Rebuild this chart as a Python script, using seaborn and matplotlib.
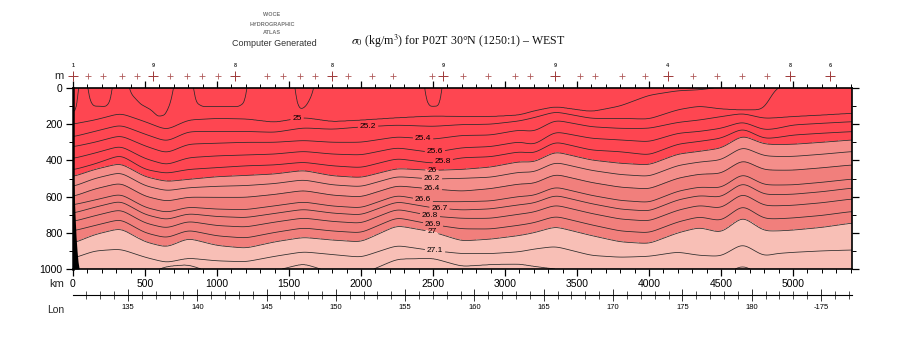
import numpy as np
import matplotlib
matplotlib.use("Agg")
import matplotlib.pyplot as plt
import pandas as pd
import seaborn as sns

# ---------------- data ----------------
dist_km = [0, 150, 330, 500, 650, 800, 1000, 1200, 1400, 1600, 1800, 2000, 2250, 2500,
           2700, 2900, 3100, 3200, 3350, 3600, 3800, 4000, 4200, 4350, 4500, 4650,
           4800, 4880, 5000, 5200, 5410]

# depth (m) of each isopycnal along the section (negative = outcropped above the surface)
d_25_0 = [200, 177, 140, 186, 232, 177, 168, 171, 190, 163, 186, 178, 165, 155, 158, 158,
          150, 127, 103, 131, 100, 40, 15, 10, -5, -30, -40, -50, -50, -50, -50]
d_25_2 = [270, 240, 204, 255, 296, 241, 240, 240, 245, 220, 228, 215, 205, 212, 202, 200,
          182, 164, 131, 168, 168, 172, 120, 100, 116, 122, 120, -5, -20, -20, -20]
d_25_4 = [325, 300, 262, 320, 360, 310, 305, 300, 300, 290, 300, 300, 270, 283, 262, 260,
          232, 241, 177, 214, 223, 223, 190, 177, 158, 140, 168, 165, 158, 150, 140]
d_25_6 = [390, 360, 320, 390, 425, 385, 375, 370, 365, 350, 365, 370, 330, 357, 330, 324,
          297, 315, 241, 278, 287, 297, 250, 240, 223, 186, 232, 225, 204, 195, 186]
d_25_8 = [453, 420, 370, 450, 472, 450, 440, 430, 425, 410, 430, 440, 390, 416, 385, 380,
          352, 361, 297, 343, 352, 370, 310, 295, 278, 223, 280, 275, 260, 250, 241]
d_26_0 = [490, 450, 416, 490, 517, 505, 490, 483, 475, 455, 485, 495, 445, 455, 450, 437,
          407, 410, 352, 398, 416, 425, 365, 350, 333, 262, 310, 312, 311, 300, 287]
d_26_2 = [545, 500, 466, 540, 568, 551, 543, 539, 528, 507, 535, 545, 489, 503, 499, 493,
          465, 465, 410, 455, 478, 488, 428, 409, 398, 325, 375, 378, 378, 366, 351]
d_26_4 = [600, 558, 524, 598, 626, 603, 604, 604, 588, 566, 592, 602, 540, 558, 570, 556,
          530, 528, 476, 522, 548, 558, 498, 476, 473, 397, 452, 454, 454, 441, 425]
d_26_6 = [646, 619, 585, 659, 688, 658, 669, 672, 651, 629, 652, 662, 593, 628, 628, 624,
          599, 594, 546, 593, 621, 632, 570, 547, 552, 473, 535, 536, 535, 521, 503]
d_26_7 = [692, 659, 624, 699, 728, 694, 710, 716, 693, 670, 691, 701, 628, 662, 674, 668,
          645, 636, 592, 639, 669, 680, 618, 594, 604, 522, 588, 589, 587, 573, 553]
d_26_8 = [738, 706, 671, 746, 775, 736, 760, 768, 741, 718, 737, 747, 669, 708, 720, 720,
          697, 686, 646, 693, 724, 735, 675, 648, 665, 581, 650, 651, 648, 634, 613]
d_26_9 = [790, 760, 725, 800, 829, 785, 817, 829, 798, 773, 790, 800, 716, 755, 778, 779,
          758, 745, 708, 756, 790, 800, 740, 711, 735, 648, 722, 723, 718, 704, 682]
d_27_0 = [858, 810, 775, 850, 880, 830, 870, 885, 850, 825, 840, 850, 760, 795, 845, 835,
          815, 800, 766, 815, 850, 860, 800, 770, 800, 711, 790, 790, 785, 770, 746]
d_27_1 = [941, 900, 890, 935, 965, 940, 955, 960, 930, 905, 920, 935, 870, 899, 915, 915,
          905, 890, 875, 925, 935, 930, 906, 925, 930, 860, 930, 915, 908, 900, 895]
d_27_2 = [1060, 1040, 1010, 1030, 985, 975, 1030, 1050, 1010, 970, 1020, 1030, 945, 940,
          985, 975, 972, 985, 1000, 1030, 1040, 1040, 1020, 1030, 1040, 978, 1040, 1040,
          1030, 1020, 1010]

# shallow 24.8 contour (surface pockets of lighter water)
surf_km = [0, 30, 45, 90, 110, 140, 230, 265, 285, 360, 400, 470, 540, 590, 640, 680, 720,
           820, 850, 900, 1150, 1195, 1225, 1530, 1550, 1580, 1620, 1660, 1700, 2430, 2450,
           2480, 2540, 2555, 2575, 5410]
d_24_8 = [130, 125, -100, -100, 60, 100, 103, 70, -100, -100, 30, 90, 120, 158, 150, 80,
          -100, -100, 80, 103, 103, 80, -100, -100, 80, 120, 100, 40, -100, -100, 70, 103,
          100, 70, -100, -100]

sigma_levels = [25.0, 25.2, 25.4, 25.6, 25.8, 26.0, 26.2, 26.4, 26.6, 26.7, 26.8, 26.9,
                27.0, 27.1, 27.2]

# bathymetry at the western end
bottom_km = [0, 7, 14, 21, 28, 35, 45]
bottom_m = [480, 560, 700, 820, 900, 960, 1010]

# stations (top row)
station_km = [0, 104, 208, 340, 444, 556, 674, 792, 896, 1007, 1125, 1347, 1458, 1576,
              1681, 1799, 1910, 2076, 2222, 2493, 2569, 2708, 2882, 3069, 3174, 3347, 3521,
              3625, 3813, 3972, 4132, 4306, 4472, 4646, 4819, 4979, 5257]
major_station_km = [0, 556, 1125, 1799, 2569, 3347, 4132, 4979, 5257]
major_station_lbl = ["1", "9", "8", "8", "9", "9", "4", "8", "6"]

km_ticks = [0, 500, 1000, 1500, 2000, 2500, 3000, 3500, 4000, 4500, 5000]
lon_ticks = [135, 140, 145, 150, 155, 160, 165, 170, 175, 180, 185]
lon_labels = ["135", "140", "145", "150", "155", "160", "165", "170", "175", "180", "-175"]
lon_range = [131.03, 187.24]

label_levels = [25.0, 25.2, 25.4, 25.6, 25.8, 26.0, 26.2, 26.4, 26.6, 26.7, 26.8, 26.9,
                27.0, 27.1]
label_km = [1556, 2049, 2431, 2514, 2569, 2493, 2493, 2493, 2430, 2545, 2479, 2500, 2493,
            2514]

# ---------------- style ----------------
sns.set_theme(style="white")
plt.rcParams["font.family"] = ["Liberation Sans", "DejaVu Sans"]
plt.rcParams["mathtext.fontset"] = "stix"

W, H = 900, 350
fig = plt.figure(figsize=(9, 3.5), dpi=100)
fig.patch.set_facecolor("white")


def fx(px):
    return px / W


def fy(py):
    return 1 - py / H


def smooth(v, sig):
    n = int(3 * sig)
    k = np.exp(-0.5 * (np.arange(-n, n + 1) / sig) ** 2)
    k /= k.sum()
    return np.convolve(np.pad(v, n, mode="edge"), k, mode="valid")


ax = fig.add_axes([fx(73), fy(269), (852 - 73) / W, (269 - 88) / H])

# ---------------- build density field from isopycnal depths ----------------
depth_rows = [d_25_0, d_25_2, d_25_4, d_25_6, d_25_8, d_26_0, d_26_2, d_26_4, d_26_6,
              d_26_7, d_26_8, d_26_9, d_27_0, d_27_1, d_27_2]
xs = np.linspace(0, dist_km[-1], 1200)
zs = np.linspace(0, 1000, 500)
levs = [24.4, 24.8] + sigma_levels + [27.6]
Dm = [np.full_like(xs, -400.0), smooth(np.interp(xs, surf_km, d_24_8), 2.5)]
Dm += [smooth(np.interp(xs, dist_km, r), 7) for r in depth_rows]
Dm += [np.full_like(xs, 2500.0)]
Dm = np.array(Dm)
S = np.empty((len(zs), len(xs)))
for j in range(len(xs)):
    col = np.maximum.accumulate(Dm[:, j] + np.arange(len(levs)) * 1e-3)
    S[:, j] = np.interp(zs, col, levs)

fill_levels = [20, 26.0, 26.4, 27.0, 30]
fill_colors = ["#FE4651", "#F48E8A", "#F17F7C", "#F8BFB6"]
ax.contourf(xs, zs, S, levels=fill_levels, colors=fill_colors)
other_levels = [lv for lv in [24.8] + sigma_levels if lv not in label_levels]
ax.contour(xs, zs, S, levels=other_levels, colors="#2a2a2a", linewidths=0.55)
cs = ax.contour(xs, zs, S, levels=label_levels, colors="#2a2a2a", linewidths=0.55)

# contour labels on the lines
pos = []
for lv, km in zip(label_levels, label_km):
    row = depth_rows[sigma_levels.index(lv)]
    pos.append((km, float(np.interp(km, dist_km, row))))
txts = ax.clabel(cs, manual=pos, inline=True, inline_spacing=2,
                 fontsize=6, fmt=lambda v: f"{v:g}", colors="black")
for t in txts:
    t.set_rotation(0)

# bathymetry
ax.fill_between(bottom_km, bottom_m, 1000, color="black", zorder=4, lw=0)

# station markers (top row)
df_st = pd.DataFrame({"km": station_km, "y": 1.066})
df_maj = pd.DataFrame({"km": major_station_km, "y": 1.066})
trans = ax.get_xaxis_transform()
sns.scatterplot(data=df_st, x="km", y="y", ax=ax, marker="+", s=14, color="#B05A5A",
                linewidth=0.6, transform=trans, clip_on=False, legend=False, zorder=5)
sns.scatterplot(data=df_maj, x="km", y="y", ax=ax, marker="+", s=45, color="#A03C3C",
                linewidth=0.7, transform=trans, clip_on=False, legend=False, zorder=6)
for km, lbl in zip(major_station_km, major_station_lbl):
    ax.text(km, 1.122, lbl, transform=trans, ha="center", va="center", fontsize=4,
            fontweight="bold", color="#333333", clip_on=False)

# axes
ax.set_xlim(0, dist_km[-1])
ax.set_ylim(1000, 0)
ax.set_xlabel("")
ax.set_ylabel("")
ax.set_xticks(km_ticks)
ax.set_xticks(np.arange(0, 5401, 100), minor=True)
ax.set_yticks([0, 200, 400, 600, 800, 1000])
ax.set_yticks(np.arange(0, 1001, 100), minor=True)
ax.tick_params(axis="both", which="both", direction="out", color="black",
               top=True, right=True, bottom=True, left=True,
               labeltop=False, labelright=False, labelsize=7.5, labelcolor="black")
ax.tick_params(which="major", length=5, width=0.9, pad=2.5)
ax.tick_params(which="minor", length=3, width=0.7)
for sp in ax.spines.values():
    sp.set_color("black")
    sp.set_linewidth(1.2)
ax.spines["left"].set_linewidth(1.8)

fig.text(fx(64), fy(76), "m", ha="right", va="center", fontsize=8)
fig.text(fx(64), fy(284), "km", ha="right", va="center", fontsize=8)
fig.text(fx(64), fy(310), "Lon", ha="right", va="center", fontsize=7.5)

# longitude axis
lax = fig.add_axes([fx(73), fy(295), (852 - 73) / W, 0.0001])
lax.patch.set_alpha(0)
for s in ["left", "right", "top"]:
    lax.spines[s].set_visible(False)
lax.spines["bottom"].set_color("black")
lax.spines["bottom"].set_linewidth(0.8)
lax.set_xlim(*lon_range)
lax.set_yticks([])
lax.set_xticks(lon_ticks)
lax.set_xticklabels(lon_labels)
lax.set_xticks(np.arange(132, 188, 1), minor=True)
lax.tick_params(axis="x", which="both", direction="inout", color="#333333", bottom=True,
                top=False, labelbottom=True, labelsize=5.5, labelcolor="black")
lax.tick_params(axis="x", which="major", length=9, width=0.7, pad=2)
lax.tick_params(axis="x", which="minor", length=6, width=0.6)

# header texts
fig.text(fx(458), fy(41.5),
         r"$\sigma_0$ (kg/m$^3$) for P02T 30°N (1250:1) – WEST",
         ha="center", va="center", fontsize=8.6, family=["Liberation Serif", "DejaVu Serif"],
         color="#111111")
fig.text(fx(274), fy(43), "Computer Generated", ha="center", va="center", fontsize=6.5,
         color="#333333")
for txt, yy in [("WOCE", 15), ("HYDROGRAPHIC", 24), ("ATLAS", 33)]:
    fig.text(fx(272), fy(yy), txt, ha="center", va="center", fontsize=4,
             fontweight="bold", color="#777777")

fig.savefig("out.png", dpi=100)
